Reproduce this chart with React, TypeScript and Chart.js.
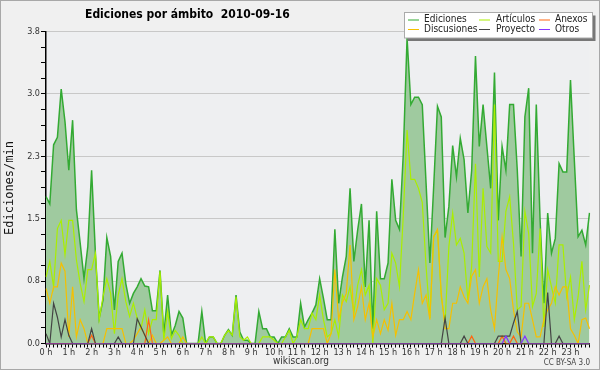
import { useEffect, useRef } from "react";
import { Chart, registerables } from "chart.js";

Chart.register(...registerables);

// 10-minute slots of the day
const times: string[] = Array.from({ length: 144 }, (_, i) =>
  `${String(Math.floor(i / 6)).padStart(2, "0")}:${String((i % 6) * 10).padStart(2, "0")}`
);

const hourLabels = [
  "0 h", "1 h", "2 h", "3 h", "4 h", "5 h", "6 h", "7 h", "8 h", "9 h", "10 h", "11 h",
  "12 h", "13 h", "14 h", "15 h", "16 h", "17 h", "18 h", "19 h", "20 h", "21 h", "22 h", "23 h",
];

const yMajor = [0, 0.76, 1.52, 2.28, 3.04, 3.8];
const yLabels = ["0.0", "0.8", "1.5", "2.3", "3.0", "3.8"];
const yMinorPerMajor = 4;

const ediciones = [
  1.79, 1.70, 2.42, 2.51, 3.10, 2.70, 2.11, 2.72, 1.63, 1.22, 0.79, 1.18,
  2.11, 1.10, 0.31, 0.53, 1.29, 1.06, 0.41, 1.00, 1.10, 0.73, 0.49, 0.61,
  0.69, 0.79, 0.70, 0.69, 0.40, 0.40, 0.89, 0.11, 0.59, 0.10, 0.22, 0.39,
  0.31, 0, 0, 0, 0, 0.39, 0, 0.08, 0.08, 0, 0, 0.10,
  0.17, 0.10, 0.59, 0.14, 0.04, 0.04, 0, 0, 0.39, 0.18, 0.18, 0.08,
  0.08, 0, 0.08, 0.08, 0.18, 0.08, 0.08, 0.49, 0.20, 0.29, 0.37, 0.47,
  0.79, 0.55, 0.29, 0.29, 1.39, 0.49, 0.81, 1.06, 1.89, 1.00, 1.38, 1.70,
  0.69, 1.50, 0.18, 1.61, 0.79, 0.79, 0.98, 2.00, 1.50, 1.39, 2.30, 3.72,
  2.91, 3.00, 3.00, 2.91, 1.95, 0.98, 1.91, 2.89, 2.76, 1.29, 1.67, 2.41,
  2.03, 2.50, 2.24, 1.59, 2.11, 3.50, 2.40, 2.91, 2.40, 1.89, 3.30, 1.50,
  2.40, 2.11, 2.91, 2.91, 2.11, 1.06, 2.76, 3.11, 1.10, 2.91, 1.50, 0.49,
  1.59, 1.10, 1.28, 2.19, 2.09, 2.09, 3.21, 2.24, 1.30, 1.38, 1.20, 1.59,
];

const articulos = [
  0.81, 1.00, 0.69, 1.40, 1.50, 1.08, 1.50, 1.50, 1.02, 0.73, 0.51, 0.90,
  0.90, 1.10, 0.29, 0.57, 0.79, 0.61, 0.12, 0.59, 0.79, 0.51, 0.33, 0.49,
  0.31, 0.18, 0.41, 0.12, 0.29, 0.29, 0.88, 0.04, 0.39, 0.06, 0.16, 0.10,
  0, 0, 0, 0, 0, 0.08, 0, 0.08, 0.08, 0, 0, 0.10,
  0.16, 0.10, 0.57, 0.08, 0.04, 0.08, 0, 0, 0, 0.08, 0.08, 0.08,
  0.04, 0, 0, 0.08, 0.16, 0, 0.08, 0.29, 0.18, 0.18, 0.37, 0.29,
  0.59, 0.29, 0.08, 0.12, 0.29, 0.08, 0.59, 0.51, 0.69, 0.37, 0.71, 0.90,
  0.59, 0.71, 0, 0.79, 0.71, 0.41, 0.49, 1.10, 0.98, 0.69, 1.55, 2.60,
  2.00, 2.00, 1.89, 1.72, 0.94, 0.31, 1.30, 1.38, 0.57, 0.25, 1.18, 1.59,
  1.20, 1.28, 1.10, 0.53, 0.94, 2.19, 0.81, 1.89, 1.18, 1.10, 2.91, 1.00,
  1.00, 1.61, 1.79, 1.22, 0.41, 0.45, 1.61, 1.34, 0.45, 0.61, 1.40, 0.20,
  0.90, 0.69, 0.49, 1.20, 1.20, 0.57, 0.81, 0.29, 0.57, 1.00, 0.41, 0.71,
];

const discusiones = [
  0.67, 0.49, 0.69, 0.69, 0.98, 0.88, 0.08, 0.69, 0.08, 0.29, 0.18, 0,
  0, 0, 0, 0, 0.18, 0.18, 0.18, 0.18, 0.18, 0, 0, 0.04,
  0.12, 0.20, 0.10, 0, 0.10, 0, 0, 0.04, 0.08, 0, 0, 0,
  0.08, 0, 0, 0, 0, 0, 0, 0, 0, 0, 0, 0,
  0, 0, 0, 0, 0, 0, 0, 0, 0, 0, 0, 0,
  0, 0, 0, 0, 0, 0, 0, 0, 0, 0, 0.18, 0.18,
  0.18, 0.18, 0, 0.12, 0.90, 0.29, 0.50, 0.61, 1.20, 0.29, 0.45, 0.69,
  0.29, 0.49, 0.08, 0.29, 0.12, 0.29, 0.16, 0.49, 0.10, 0.29, 0.29, 0.39,
  0.29, 0.61, 0.90, 0.49, 0.59, 0.29, 1.30, 1.39, 0.61, 0.18, 0.18, 0.49,
  0.49, 0.69, 0.57, 0.49, 0.82, 0.90, 0.49, 0.69, 0.79, 0.41, 0.18, 0.81,
  1.30, 0.90, 0.79, 0.41, 0.14, 0.08, 0.49, 0.49, 0.29, 0.08, 0.08, 0.29,
  0.41, 0.49, 0.69, 0.59, 0.69, 0.69, 0.18, 0.10, 0, 0.29, 0.31, 0.18,
];

const proyecto = [
  0.12, 0, 0.49, 0.32, 0.08, 0.29, 0.10, 0, 0, 0, 0, 0,
  0.18, 0, 0, 0, 0, 0, 0, 0.08, 0, 0, 0, 0,
  0.30, 0.20, 0.10, 0, 0, 0, 0, 0, 0, 0, 0, 0,
  0, 0, 0, 0, 0, 0, 0, 0, 0, 0, 0, 0,
  0, 0, 0, 0, 0, 0, 0, 0, 0, 0, 0, 0,
  0, 0, 0, 0, 0, 0, 0, 0, 0, 0, 0, 0,
  0, 0, 0, 0, 0, 0, 0, 0, 0, 0, 0, 0,
  0, 0, 0, 0, 0, 0, 0, 0, 0, 0, 0, 0,
  0, 0, 0, 0, 0, 0, 0, 0, 0, 0.31, 0, 0,
  0, 0, 0.09, 0, 0, 0, 0, 0, 0, 0, 0, 0.09,
  0.09, 0.09, 0.09, 0.25, 0.39, 0, 0, 0, 0, 0, 0, 0,
  0.62, 0, 0, 0.09, 0, 0, 0, 0, 0, 0, 0, 0,
];

const anexos = [
  0, 0, 0, 0, 0, 0, 0, 0, 0, 0, 0, 0,
  0.10, 0, 0, 0, 0, 0, 0, 0, 0, 0, 0, 0,
  0, 0, 0, 0.29, 0, 0, 0, 0, 0, 0, 0, 0,
  0, 0, 0, 0, 0, 0, 0, 0, 0, 0, 0, 0,
  0, 0, 0, 0, 0, 0, 0, 0, 0, 0, 0, 0,
  0, 0, 0, 0, 0, 0, 0, 0, 0, 0, 0, 0,
  0, 0, 0, 0, 0, 0, 0, 0, 0, 0, 0, 0,
  0, 0, 0, 0, 0, 0, 0, 0, 0, 0, 0, 0,
  0, 0, 0, 0, 0, 0, 0, 0, 0, 0, 0, 0,
  0, 0, 0, 0, 0.09, 0, 0, 0, 0, 0, 0, 0,
  0.09, 0, 0, 0.09, 0, 0, 0, 0, 0, 0, 0, 0,
  0, 0, 0, 0, 0, 0, 0, 0, 0, 0, 0, 0,
];

const otros = [
  0, 0, 0, 0, 0, 0, 0, 0, 0, 0, 0, 0,
  0, 0, 0, 0, 0, 0, 0, 0, 0, 0, 0, 0,
  0, 0, 0, 0, 0, 0, 0, 0, 0, 0, 0, 0,
  0, 0, 0, 0, 0, 0, 0, 0, 0, 0, 0, 0,
  0, 0, 0, 0, 0, 0, 0, 0, 0, 0, 0, 0,
  0, 0, 0, 0, 0, 0, 0, 0, 0, 0, 0, 0,
  0, 0, 0, 0, 0, 0, 0, 0, 0, 0, 0, 0,
  0, 0, 0, 0, 0, 0, 0, 0, 0, 0, 0, 0,
  0, 0, 0, 0, 0, 0, 0, 0, 0, 0, 0, 0,
  0, 0, 0, 0, 0, 0, 0, 0, 0, 0, 0, 0,
  0, 0.09, 0, 0, 0, 0, 0.09, 0, 0, 0, 0, 0,
  0, 0, 0, 0, 0, 0, 0, 0, 0, 0, 0, 0,
];

const TITLE = "Ediciones por ámbito  2010-09-16";
const Y_TITLE = "Ediciones/min";
const FOOT = "wikiscan.org";
const LICENSE = "CC BY-SA 3.0";

const SANS = '"DejaVu Sans Condensed", "DejaVu Sans", sans-serif';

const decor = {
  id: "decor",
  beforeDraw(chart: any) {
    const { ctx, chartArea: a, width, height } = chart;
    ctx.save();
    ctx.fillStyle = "#f0f0f0";
    ctx.fillRect(0, 0, width, height);
    ctx.strokeStyle = "#a8a8a8";
    ctx.lineWidth = 1;
    ctx.strokeRect(0.5, 0.5, width - 1, height - 1);
    ctx.fillStyle = "#eeeff1";
    ctx.fillRect(a.left, a.top, a.right - a.left, a.bottom - a.top);
    ctx.restore();
  },
  afterDraw(chart: any) {
    const { ctx } = chart;
    ctx.save();
    // title
    ctx.fillStyle = "#000";
    ctx.font = `bold 12px ${SANS}`;
    ctx.textAlign = "left";
    ctx.textBaseline = "middle";
    ctx.fillText(TITLE, 85, 15);

    // y title
    ctx.save();
    ctx.translate(10, 188);
    ctx.rotate(-Math.PI / 2);
    ctx.font = '12px "DejaVu Sans Mono", monospace';
    ctx.textAlign = "center";
    ctx.fillStyle = "#111";
    ctx.fillText(Y_TITLE, 0, 0);
    ctx.restore();

    // footer
    ctx.font = `10px ${SANS}`;
    ctx.fillStyle = "#333";
    ctx.textAlign = "center";
    ctx.fillText(FOOT, 301, 361);
    ctx.font = `8px ${SANS}`;
    ctx.textAlign = "right";
    ctx.fillStyle = "#444";
    ctx.fillText(LICENSE, 590, 363);

    // legend
    const bx = 404.5, by = 12.5, bw = 188, bh = 25.5;
    ctx.fillStyle = "#777";
    ctx.fillRect(bx + 3, by + 3, bw, bh);
    ctx.fillStyle = "#fff";
    ctx.fillRect(bx, by, bw, bh);
    ctx.strokeStyle = "#aaa";
    ctx.lineWidth = 1;
    ctx.strokeRect(bx, by, bw, bh);
    const colX = [408, 479, 539];
    const txtX = [424, 496, 555];
    const rowY = [19.5, 29];
    ctx.font = `10px ${SANS}`;
    ctx.textAlign = "left";
    ctx.textBaseline = "middle";
    chart.data.datasets.forEach((ds: any, i: number) => {
      const c = i % 3, r = Math.floor(i / 3);
      const y = rowY[r];
      ctx.strokeStyle = ds.borderColor;
      ctx.lineWidth = 1;
      ctx.beginPath();
      ctx.moveTo(colX[c], y + 0.5);
      ctx.lineTo(colX[c] + 11, y + 0.5);
      ctx.stroke();
      ctx.fillStyle = "#222";
      ctx.fillText(ds.label, txtX[c], y);
    });
    ctx.restore();
  },
};

export default function App() {
  const ref = useRef<HTMLCanvasElement | null>(null);
  useEffect(() => {
    document.body.style.margin = "0";
    const el = ref.current;
    if (!el) return;
    const line = (label: string, data: number[], color: string, order: number, extra: any = {}) => ({
      label,
      data,
      borderColor: color,
      backgroundColor: color,
      borderWidth: 1.2,
      pointRadius: 0,
      tension: 0,
      fill: false,
      order,
      ...extra,
    });
    const chart = new Chart(el, {
      type: "line",
      data: {
        labels: times,
        datasets: [
          line("Ediciones", ediciones, "#33aa33", 10, {
            fill: "origin",
            backgroundColor: "#9fca9f",
            borderWidth: 1.5,
          }),
          line("Artículos", articulos, "#aaee00", 4),
          line("Anexos", anexos, "#ff6611", 2),
          line("Discusiones", discusiones, "#f5c000", 3),
          line("Proyecto", proyecto, "#444444", 1),
          line("Otros", otros, "#8833ff", 0),
        ],
      },
      options: {
        animation: false,
        responsive: false,
        devicePixelRatio: 1,
        events: [],
        layout: { padding: { top: 31.5, right: 10.5, left: 0, bottom: 0 } },
        plugins: {
          legend: { display: false },
          title: { display: false },
          tooltip: { enabled: false },
        },
        scales: {
          x: {
            type: "category",
            offset: false,
            afterFit: (s: any) => {
              s.height = 26.5;
            },
            grid: {
              display: true,
              drawOnChartArea: false,
              drawTicks: true,
              tickLength: 4,
              tickColor: "#000",
              offset: false,
            },
            border: { display: true, color: "#000", width: 1.5 },
            ticks: {
              autoSkip: false,
              maxRotation: 0,
              minRotation: 0,
              padding: 0,
              color: "#333",
              font: { family: SANS, size: 9 },
              callback: (_v: any, i: number) => (i % 6 === 0 ? hourLabels[i / 6] : ""),
            },
          },
          y: {
            min: 0,
            max: 3.8,
            afterFit: (s: any) => {
              s.width = 46;
            },
            afterBuildTicks: (s: any) => {
              const t: any[] = [];
              for (let j = 0; j < yMajor.length; j++) {
                t.push({ value: yMajor[j] });
                if (j < yMajor.length - 1) {
                  const step = (yMajor[j + 1] - yMajor[j]) / yMinorPerMajor;
                  for (let k = 1; k < yMinorPerMajor; k++) t.push({ value: yMajor[j] + k * step });
                }
              }
              s.ticks = t;
            },
            grid: {
              display: true,
              drawTicks: true,
              tickLength: 5,
              tickColor: "#000",
              color: (c: any) => (c.index % yMinorPerMajor === 0 ? "#c8c8c8" : "rgba(0,0,0,0)"),
              lineWidth: 1,
            },
            border: { display: true, color: "#000", width: 1.5 },
            ticks: {
              padding: 1,
              color: "#333",
              font: { family: SANS, size: 9 },
              callback: (_v: any, i: number) =>
                i % yMinorPerMajor === 0 ? yLabels[i / yMinorPerMajor] : "",
            },
          },
        },
      },
      plugins: [decor],
    });
    return () => chart.destroy();
  }, []);
  return <canvas ref={ref} width={600} height={370} style={{ display: "block", width: 600, height: 370 }} />;
}
